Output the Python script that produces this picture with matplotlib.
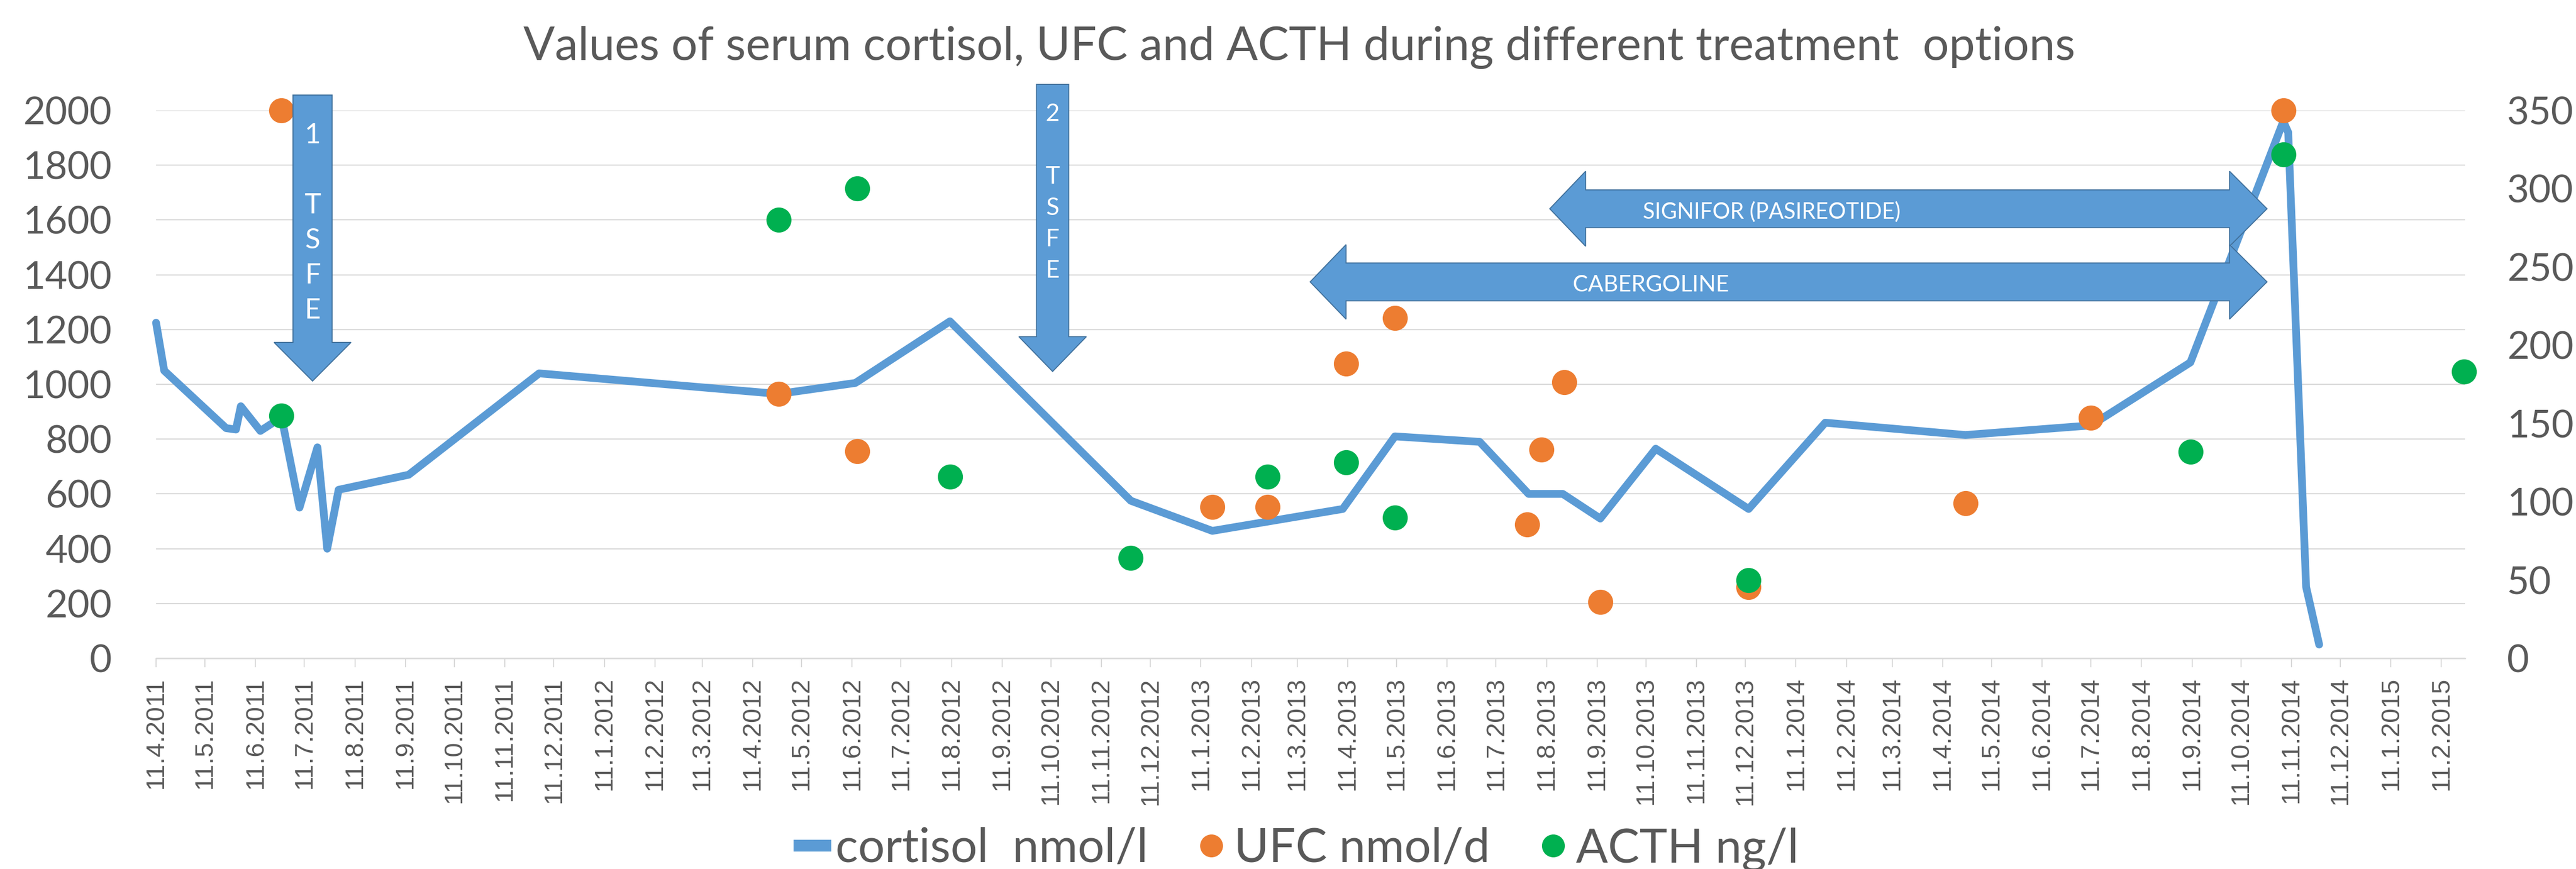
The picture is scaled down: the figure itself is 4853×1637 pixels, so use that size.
import numpy as np
import matplotlib
matplotlib.use("Agg")
import matplotlib.pyplot as plt
import matplotlib.dates as mdates
from matplotlib.patches import Polygon
from matplotlib.lines import Line2D
from matplotlib.ticker import FuncFormatter, MultipleLocator
from datetime import datetime

# ---- data ----
cortisol_dates = ["2011-04-11", "2011-04-16", "2011-05-24", "2011-05-30", "2011-06-02",
                  "2011-06-14", "2011-06-27", "2011-07-08", "2011-07-19", "2011-07-25",
                  "2011-08-01", "2011-09-13", "2011-12-02", "2012-04-27", "2012-06-13",
                  "2012-08-10", "2012-11-29", "2013-01-18", "2013-04-08", "2013-05-10",
                  "2013-07-01", "2013-07-31", "2013-08-21", "2013-09-13", "2013-10-17",
                  "2013-12-13", "2014-01-29", "2014-04-25", "2014-07-11", "2014-09-10",
                  "2014-11-06", "2014-11-09", "2014-11-20", "2014-11-28"]
cortisol = [1225, 1050, 840, 835, 920,
            830, 880, 550, 770, 400,
            615, 670, 1040, 965, 1005,
            1230, 575, 465, 545, 810,
            790, 600, 600, 510, 765,
            545, 860, 815, 850, 1080,
            1960, 1920, 260, 50]

ufc_dates = ["2011-06-27", "2012-04-27", "2012-06-14", "2013-01-18", "2013-02-21",
             "2013-04-10", "2013-05-10", "2013-07-30", "2013-08-08", "2013-08-22",
             "2013-09-13", "2013-12-13", "2014-04-25", "2014-07-11", "2014-11-06"]
ufc = [2000, 965, 755, 552, 552,
       1076, 1242, 488, 762, 1008,
       205, 260, 566, 878, 2000]

acth_dates = ["2011-06-27", "2012-04-27", "2012-06-14", "2012-08-10", "2012-11-29",
              "2013-02-21", "2013-04-10", "2013-05-10", "2013-12-13", "2014-09-10",
              "2014-11-06", "2015-02-25"]
acth = [155, 280, 300, 116, 64,
        116, 125, 90, 50, 132,
        322, 183]

left_max, left_step = 2000, 200
right_max, right_step = 350, 50

title = "Values of serum cortisol, UFC and ACTH during different treatment  options"
labels = ["cortisol  nmol/l", "UFC nmol/d", "ACTH ng/l"]

# ---- style ----
BLUE = "#5B9BD5"
EDGE = "#41719C"
ORANGE = "#ED7D31"
GREEN = "#00B050"
GRID = "#D9D9D9"
TXT = "#595959"
CAL = ["Lato", "DejaVu Sans"]


def to_num(ds):
    return mdates.date2num([datetime.strptime(d, "%Y-%m-%d") for d in ds])


xc = to_num(cortisol_dates)
xu = to_num(ufc_dates)
xa = to_num(acth_dates)

W, H = 4853, 1637
fig = plt.figure(figsize=(W / 100, H / 100), dpi=100)
ax = fig.add_axes([294 / W, 1 - 1240 / H, (4644 - 294) / W, (1240 - 208) / H])
ax2 = ax.twinx()

ax.plot(xc, cortisol, color=BLUE, lw=10.5, solid_joinstyle="round",
        solid_capstyle="round", zorder=3, clip_on=False)
ax.plot(xu, ufc, ls="none", marker="o", ms=34, mew=0, color=ORANGE, zorder=4,
        clip_on=False)
ax2.plot(xa, acth, ls="none", marker="o", ms=34, mew=0, color=GREEN, zorder=4,
         clip_on=False)

xmin = min(xc.min(), xu.min(), xa.min())
xmax = max(xc.max(), xu.max(), xa.max())
ax.set_xlim(xmin, xmax + 0.5)
ax.set_ylim(0, left_max)
ax2.set_ylim(0, right_max)
ax.yaxis.set_major_locator(MultipleLocator(left_step))
ax2.yaxis.set_major_locator(MultipleLocator(right_step))

ax.grid(axis="y", color=GRID, lw=1.6)
ax.set_axisbelow(True)
for a in (ax, ax2):
    for s in ("top", "left", "right"):
        a.spines[s].set_visible(False)
ax.spines["bottom"].set_color(GRID)
ax.spines["bottom"].set_linewidth(1.8)
ax2.spines["bottom"].set_visible(False)

ax.xaxis.set_major_locator(mdates.MonthLocator(bymonthday=11))
ax.xaxis.set_major_formatter(FuncFormatter(
    lambda v, p: "{0.day}.{0.month}.{0.year}".format(mdates.num2date(v))))
ax.tick_params(axis="x", which="major", length=12, width=1.5, color=GRID,
               pad=14, labelrotation=90, labelsize=35, labelcolor=TXT)
for t in ax.get_xticklabels():
    t.set_fontfamily("Liberation Sans")
ax.tick_params(axis="y", length=0, pad=60, labelsize=52, labelcolor=TXT)
ax2.tick_params(axis="y", length=0, pad=57, labelsize=52, labelcolor=TXT)
for t in ax.get_yticklabels() + ax2.get_yticklabels():
    t.set_fontfamily(CAL)

fig.text(2448 / W, 1 - 113 / H, title, ha="center", va="baseline",
         fontsize=63, color=TXT, family=CAL)

# ---- treatment arrows (shapes over the chart, placed in left-axis units) ----
T = ax.transData


def vert_arrow(day, body_hw, head_hw, top, head_y, tip):
    x = mdates.date2num(datetime.strptime(day, "%Y-%m-%d"))
    pts = [(x - body_hw, top), (x + body_hw, top), (x + body_hw, head_y),
           (x + head_hw, head_y), (x, tip), (x - head_hw, head_y),
           (x - body_hw, head_y)]
    fig.add_artist(Polygon(pts, closed=True, transform=T, fc=BLUE, ec=EDGE,
                           lw=1.4, zorder=2))
    return x


def double_arrow(left_tip, left_base, right_base, right_tip, yc, head_hh, body_hh):
    a, b, c, d = to_num([left_tip, left_base, right_base, right_tip])
    pts = [(a, yc), (b, yc + head_hh), (b, yc + body_hh), (c, yc + body_hh),
           (c, yc + head_hh), (d, yc), (c, yc - head_hh), (c, yc - body_hh),
           (b, yc - body_hh), (b, yc - head_hh)]
    fig.add_artist(Polygon(pts, closed=True, transform=T, fc=BLUE, ec=EDGE,
                           lw=1.4, zorder=2))


x1 = vert_arrow("2011-07-16", 12, 23.6, 2056, 1153, 1012)
fig.text(x1, 1589, "1\n\nT\nS\nF\nE", transform=T, ha="center", va="center",
         color="white", fontsize=38, family=CAL, linespacing=1.5, zorder=3)
x2 = vert_arrow("2012-10-12", 9.9, 20.7, 2095, 1174, 1047)
fig.text(x2, 1700, "2\n\nT\nS\nF\nE", transform=T, ha="center", va="center",
         color="white", fontsize=33, family=CAL, linespacing=1.5, zorder=3)

double_arrow("2013-08-13", "2013-09-04", "2014-10-04", "2014-10-27", 1641, 137, 69)
fig.text(to_num(["2013-12-27"])[0], 1630, "SIGNIFOR (PASIREOTIDE)", transform=T,
         ha="center", va="center", color="white", fontsize=30, family=CAL, zorder=3)
double_arrow("2013-03-19", "2013-04-10", "2014-10-04", "2014-10-27", 1374, 136, 69)
fig.text(to_num(["2013-10-14"])[0], 1362, "CABERGOLINE", transform=T,
         ha="center", va="center", color="white", fontsize=31, family=CAL, zorder=3)

# ---- legend ----
handles = [Line2D([], [], color=BLUE, lw=16, solid_capstyle="butt"),
           Line2D([], [], ls="none", marker="o", ms=31, mew=0, color=ORANGE),
           Line2D([], [], ls="none", marker="o", ms=31, mew=0, color=GREEN)]
fig.legend(handles, labels, loc="center", bbox_to_anchor=(2442 / W, 1 - 1600 / H),
           ncol=3, frameon=False, handlelength=0.8, handletextpad=0.08,
           columnspacing=0.95, prop={"family": CAL, "size": 64}, labelcolor=TXT)

fig.savefig("out.png", dpi=100)
